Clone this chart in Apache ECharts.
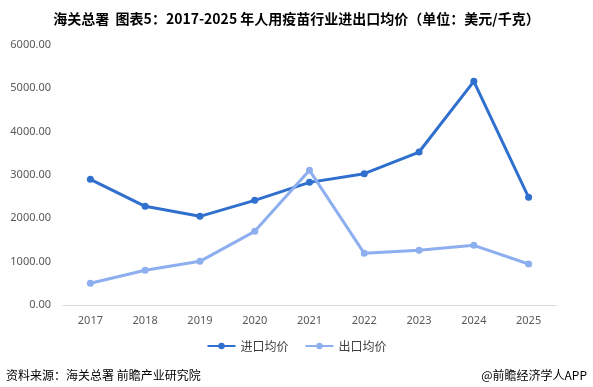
<!DOCTYPE html>
<html><head><meta charset="utf-8">
<script src="https://cdn.jsdelivr.net/npm/echarts@6/dist/echarts.min.js"></script>
<style>html,body{margin:0;padding:0;background:#fff}#c{width:593px;height:387px}</style>
</head><body><div id="c"></div>
<script>
const years = ['2017','2018','2019','2020','2021','2022','2023','2024','2025'];
const importPrice = [2900, 2277, 2046, 2415, 2830, 3030, 3530, 5162, 2485];
const exportPrice = [500, 800, 1008, 1700, 3108, 1192, 1262, 1377, 946];
const yTicks = [0, 1000, 2000, 3000, 4000, 5000, 6000];

const chart = echarts.init(document.getElementById('c'));
chart.setOption({
  animation: false,
  backgroundColor: '#fff',
  title: {
    text: '海关总署  图表5：2017-2025 年人用疫苗行业进出口均价（单位：美元/千克）',
    left: 'center', top: 7,
    textStyle: { fontSize: 14, fontWeight: 'bold', color: '#000', fontFamily: 'Noto Sans CJK SC' }
  },
  legend: {
    bottom: 30, left: 'center', itemWidth: 28, itemHeight: 8, itemGap: 16,
    textStyle: { fontSize: 12, color: '#404040', fontFamily: 'Noto Sans CJK SC' },
    data: ['进口均价', '出口均价']
  },
  grid: { left: 63, right: 37, top: 45, bottom: 82 },
  xAxis: {
    type: 'category', data: years, boundaryGap: true,
    axisLine: { lineStyle: { color: '#d9d9d9' } },
    axisTick: { show: false },
    axisLabel: { color: '#595959', fontSize: 11, margin: 10, fontFamily: 'Noto Sans' }
  },
  yAxis: {
    type: 'value', min: yTicks[0], max: yTicks[yTicks.length - 1], interval: 1000,
    axisLine: { show: false }, axisTick: { show: false },
    splitLine: { show: false },
    axisLabel: { color: '#595959', fontSize: 11, margin: 12, fontFamily: 'Noto Sans', formatter: v => v.toFixed(2) }
  },
  series: [
    { name: '进口均价', type: 'line', data: importPrice, symbol: 'circle', symbolSize: 7,
      lineStyle: { width: 3, color: '#2F6FCE' }, itemStyle: { color: '#2F6FCE' } },
    { name: '出口均价', type: 'line', data: exportPrice, symbol: 'circle', symbolSize: 7,
      lineStyle: { width: 3, color: '#8DAEEF' }, itemStyle: { color: '#8DAEEF' } }
  ],
  graphic: [
    { type: 'text', left: 6, top: 369, style: { text: '资料来源：海关总署 前瞻产业研究院', fontSize: 12, fill: '#000', fontFamily: 'Noto Sans CJK SC' } },
    { type: 'text', right: 6, top: 369, style: { text: '@前瞻经济学人APP', fontSize: 12, fill: '#000', fontFamily: 'Noto Sans CJK SC' } }
  ]
});
</script></body></html>
